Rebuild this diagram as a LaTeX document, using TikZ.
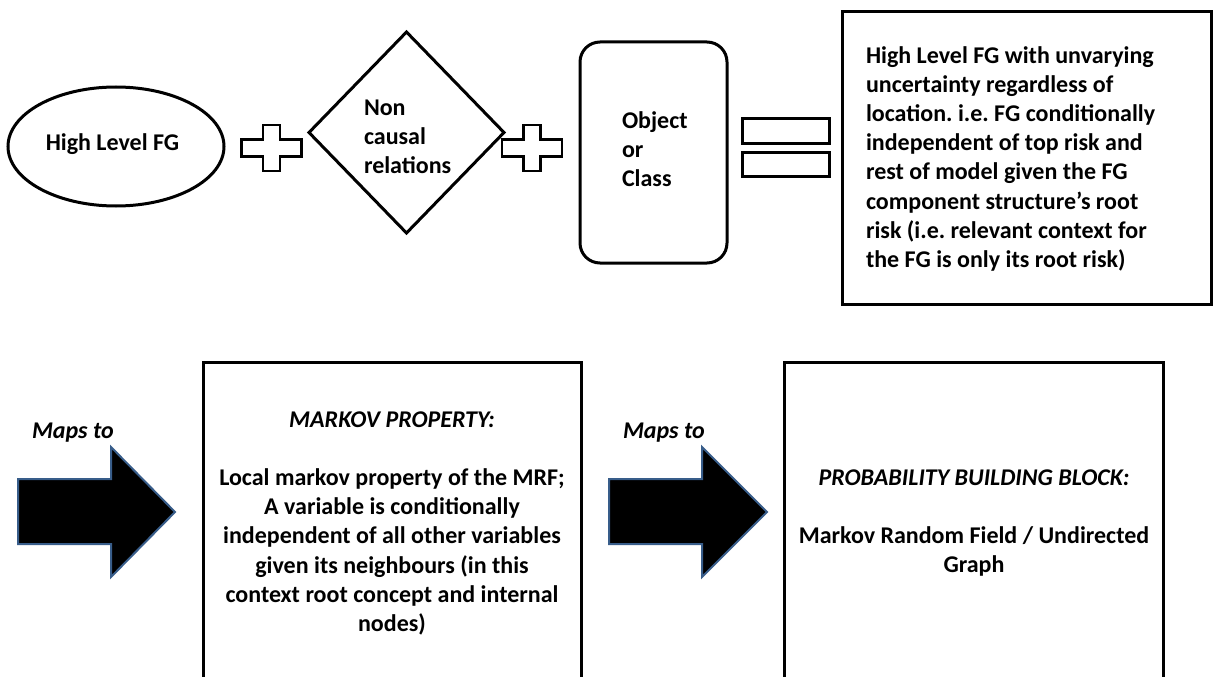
\documentclass[tikz,border=0pt]{standalone}
\usepackage{fontspec}
\setmainfont{Carlito}
\frenchspacing
\usetikzlibrary{shapes.geometric}
\definecolor{arrowedge}{RGB}{56,93,138}
\tikzset{
  txt/.style={font=\fontsize{24}{29.2}\selectfont\bfseries, inner sep=0pt, outer sep=0pt},
  outline/.style={draw=black, line width=3pt},
  bigarrow/.style={fill=black, draw=arrowedge, line width=2pt, line join=miter},
  plussign/.pic={
    \draw[outline, line width=2.6pt, line join=miter]
      (-30,-8.5) -- (-8.5,-8.5) -- (-8.5,-23) -- (8.5,-23) -- (8.5,-8.5) -- (30,-8.5)
      -- (30,8.5) -- (8.5,8.5) -- (8.5,23) -- (-8.5,23) -- (-8.5,8.5) -- (-30,8.5) -- cycle;
  },
}
% strut that fixes the height of the first text line
\newcommand\firstline{\rule{0pt}{22pt}}

\begin{document}
\begin{tikzpicture}[x=1pt,y=-1pt]
\clip (0,0) rectangle (1218,677);
\fill[white] (0,0) rectangle (1218,677);

% ---- top row: High Level FG + Non causal relations + Object or Class = ...
\node[outline, ellipse, minimum width=216pt, minimum height=119pt, inner sep=0pt] (fg) at (116,146.5) {};
\node[txt, anchor=base] (fgtext) at (112.5,150) {High Level FG};

\pic (plusA) at (271.5,148) {plussign};

\coordinate (dtop) at (406.5,32);
\coordinate (dright) at (504,132.5);
\coordinate (dbottom) at (406.5,233);
\coordinate (dleft) at (309,132.5);
\draw[outline, line join=miter] (dtop) -- (dright) -- (dbottom) -- (dleft) -- cycle;
\node[txt, anchor=north west, align=left] (ncr) at (364,93)
  {\firstline Non\\causal\\relations};

\pic (plusB) at (532,148) {plussign};

\node[outline, rectangle, rounded corners=20pt, minimum width=147pt, minimum height=221pt, inner sep=0pt] (obj) at (653.5,152.5) {};
\node[txt, anchor=north west, align=left] (objtext) at (622,106)
  {\firstline Object\\or\\Class};

\node[outline, rectangle, minimum width=87pt, minimum height=25pt, inner sep=0pt] (eqA) at (785.5,130.5) {};
\node[outline, rectangle, minimum width=87pt, minimum height=24pt, inner sep=0pt] (eqB) at (785.5,164) {};

\node[outline, rectangle, minimum width=369pt, minimum height=292pt, inner sep=0pt] (result) at (1026.5,158) {};
\node[txt, anchor=north west, align=left] (resulttext) at (866,41)
  {\firstline High Level FG with unvarying\\
   uncertainty regardless of\\
   location. i.e. FG conditionally\\
   independent of top risk  and\\
   rest of model given the FG\\
   component structure’s root\\
   risk (i.e. relevant context for\\
   the FG is only its root risk)};

% ---- bottom row: Maps to -> MARKOV PROPERTY -> Maps to -> PROBABILITY BUILDING BLOCK
\node[txt, anchor=base west, font=\fontsize{24}{29.2}\selectfont\bfseries\itshape] (mapsA) at (32,438) {Maps to};
\draw[bigarrow] (18,479) -- (111,479) -- (111,447) -- (175,512) -- (111,577) -- (111,544) -- (18,544) -- cycle;

\node[outline, rectangle, minimum width=378pt, minimum height=338pt, inner sep=0pt] (markov) at (392,531) {};
\node[txt, anchor=north, align=center] (markovtext) at (392,405)
  {\firstline\itshape MARKOV PROPERTY:\\[29.2pt]
   Local markov property of the MRF;\\
   A variable is conditionally\\
   independent of all other variables\\
   given its neighbours (in this\\
   context root concept and internal\\
   nodes)};

\node[txt, anchor=base west, font=\fontsize{24}{29.2}\selectfont\bfseries\itshape] (mapsB) at (623,438) {Maps to};
\draw[bigarrow] (609,479) -- (702,479) -- (702,447) -- (767,512) -- (702,577) -- (702,544) -- (609,544) -- cycle;

\node[outline, rectangle, minimum width=379pt, minimum height=338pt, inner sep=0pt] (prob) at (973.5,531) {};
\node[txt, anchor=north, align=center] (probtext) at (974,463)
  {\firstline\itshape PROBABILITY BUILDING BLOCK:\\[29.2pt]
   Markov Random Field / Undirected\\
   Graph};
\end{tikzpicture}
\end{document}
